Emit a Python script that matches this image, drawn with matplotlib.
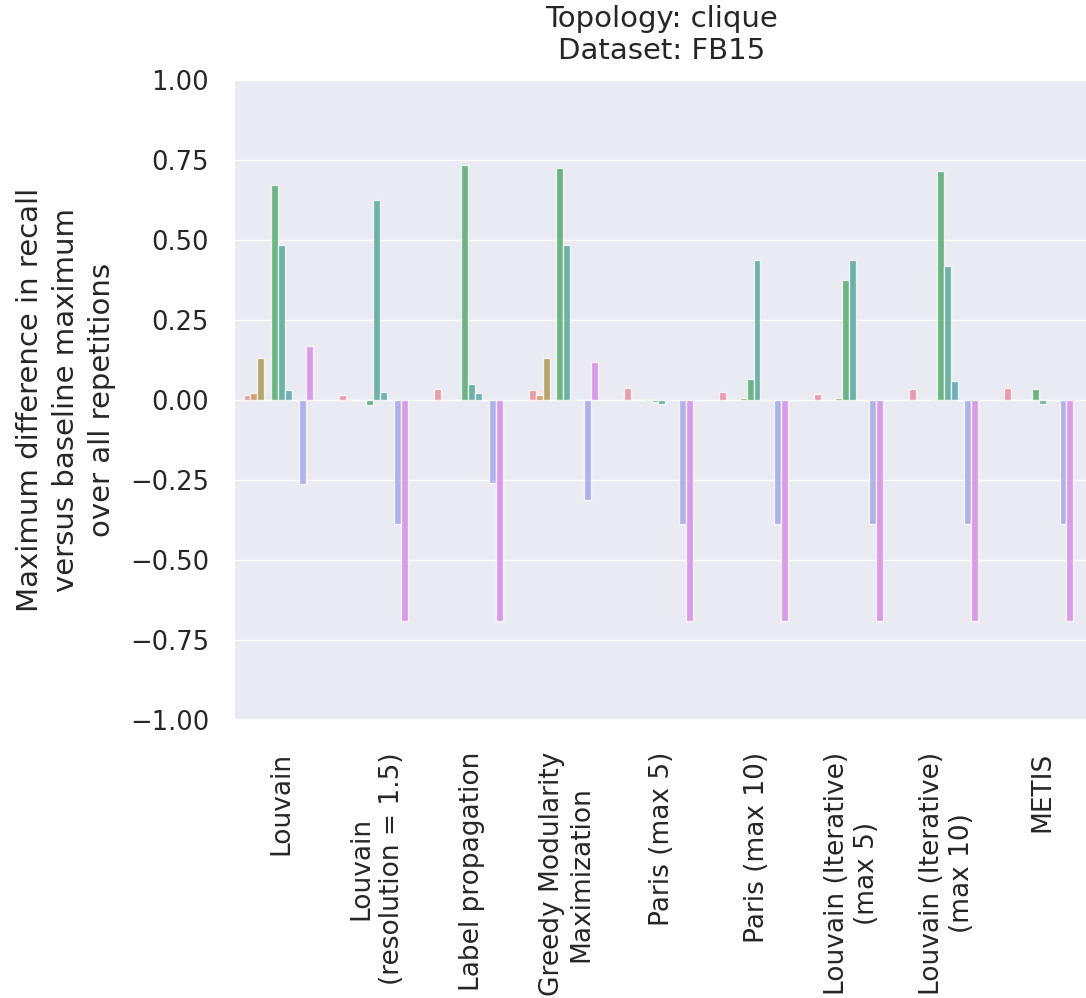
import numpy as np
import pandas as pd
import matplotlib
matplotlib.use("Agg")
import matplotlib.pyplot as plt
import seaborn as sns

# algoritmos no eixo x
algoritmos = ["Louvain", "Louvain\n(resolution = 1.5)", "Label propagation",
              "Greedy Modularity\nMaximization", "Paris (max 5)", "Paris (max 10)",
              "Louvain (Iterative)\n(max 5)", "Louvain (Iterative)\n(max 10)", "METIS"]

# configuracoes (hue) - 11 niveis
configs = ["config %d" % i for i in range(1, 12)]

# diferenca maxima de recall por configuracao, um vetor por algoritmo
louvain = [0.015, 0.023, 0.13, 0.0, 0.672, 0.483, 0.03, 0.0, -0.262, 0.17, 0.0]
louvain_res15 = [0.015, 0.003, 0.0, 0.0, -0.017, 0.625, 0.025, 0.0, -0.387, -0.69, 0.0]
label_prop = [0.035, 0.0, 0.0, 0.0, 0.733, 0.05, 0.023, 0.0, -0.26, -0.69, 0.0]
greedy = [0.03, 0.015, 0.13, 0.0, 0.725, 0.483, 0.003, 0.0, -0.313, 0.12, 0.0]
paris5 = [0.036, 0.0, 0.0, 0.002, -0.007, -0.014, 0.002, 0.0, -0.387, -0.69, 0.0]
paris10 = [0.026, 0.0, 0.0, 0.006, 0.067, 0.437, 0.002, 0.0, -0.387, -0.69, 0.0]
louvain_it5 = [0.02, 0.0, 0.0, 0.007, 0.375, 0.437, 0.0, 0.0, -0.387, -0.69, 0.0]
louvain_it10 = [0.035, 0.0, 0.0, 0.003, 0.717, 0.42, 0.06, 0.0, -0.387, -0.69, 0.0]
metis = [0.036, 0.0, 0.0, 0.0, 0.034, -0.0135, 0.0, 0.0, -0.387, -0.69, 0.0]

valores = [louvain, louvain_res15, label_prop, greedy, paris5, paris10,
           louvain_it5, louvain_it10, metis]

linhas = []
for alg, vals in zip(algoritmos, valores):
    for cfg, v in zip(configs, vals):
        linhas.append({"algoritmo": alg, "config": cfg, "diff": v})
df = pd.DataFrame(linhas)

sns.set_theme(style="darkgrid")

fig = plt.figure(figsize=(10.86, 9.98), dpi=100)
ax = fig.add_axes([0.2155, 0.2786, 0.788, 0.6413])

sns.barplot(data=df, x="algoritmo", y="diff", hue="config", errorbar=None,
            alpha=0.75, ax=ax)

ax.set_ylim(-1, 1)
ax.set_yticks([-1, -0.75, -0.5, -0.25, 0, 0.25, 0.5, 0.75, 1])
ax.set_yticklabels(["\u22121.00", "\u22120.75", "\u22120.50", "\u22120.25", "0.00",
                    "0.25", "0.50", "0.75", "1.00"])
ax.tick_params(axis="y", labelsize=18.5, length=0, pad=18)
ax.tick_params(axis="x", labelrotation=90, labelsize=19, length=0, pad=23)
ax.set_xlabel("")
ax.set_ylabel("Maximum difference in recall\nversus baseline maximum\nover all repetitions",
              fontsize=21, labelpad=10, linespacing=1.35)
ax.set_title("Topology: clique\nDataset: FB15", fontsize=21, pad=15)
ax.get_legend().remove()

fig.savefig("out.png", dpi=100)
